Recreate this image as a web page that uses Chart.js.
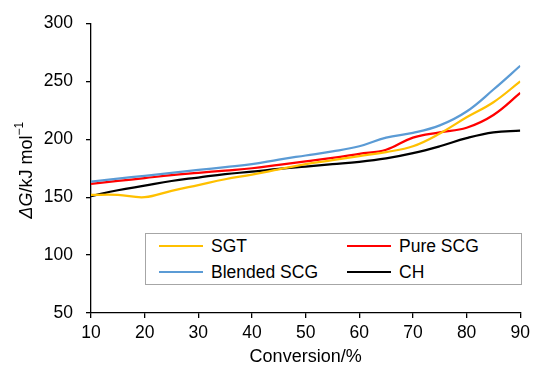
<!DOCTYPE html>
<html>
<head>
<meta charset="utf-8">
<script src="https://cdn.jsdelivr.net/npm/chart.js@4/dist/chart.umd.min.js"></script>
<style>
  body { margin: 0; background: #fff; }
  #wrap { position: relative; width: 535px; height: 373px; }
  #legend-container {
    position: absolute; left: 145px; top: 233px; width: 375px; height: 50px;
    border: 1px solid #a6a6a6; background: #fff;
    font-family: 'Liberation Sans', Arial, sans-serif; font-size: 17.5px; color: #000;
  }
  #legend-container .item { position: absolute; display: flex; align-items: center; height: 24px; }
  #legend-container .swatch { width: 44px; height: 2.25px; margin-right: 8px; }
</style>
</head>
<body>
<div id="wrap">
  <canvas id="myChart" width="535" height="373"></canvas>
  <div id="legend-container"></div>
</div>
<script>
/* conversion values, % */
const CONVERSION = [10, 15, 20, 25, 30, 35, 40, 45, 50, 55, 60, 65, 70, 75, 80, 85, 90];

// delta G, kJ/mol
const SGT =         [152, 152, 150, 155.5, 160.5, 165.5, 169.5, 174, 178.5, 182, 185.5, 189, 194, 205, 219, 232, 250];
const PURE_SCG =    [161.5, 164, 166.5, 169, 171, 173, 175, 178, 181, 184, 187.5, 191, 201.5, 206, 210, 221, 240];
const BLENDED_SCG = [163.5, 166, 168.5, 171, 173.5, 176, 178.5, 182.5, 186, 189.5, 194, 201.5, 205.5, 212, 224, 243, 263.5];
const CH =          [151, 156, 160, 164, 167, 170, 172, 174.5, 176.5, 178.5, 180.5, 183.5, 188, 194, 201, 206, 207.5];

const X_TICKS = [10, 20, 30, 40, 50, 60, 70, 80, 90];
const Y_TICKS = [50, 100, 150, 200, 250, 300];

const FONT = "'Liberation Sans', Arial, sans-serif";

function toPoints(values) {
    return values.map((v, i) => ({ x: CONVERSION[i], y: v }));
}

const data = {
    datasets: [
        { label: 'SGT', data: toPoints(SGT), borderColor: '#FFC000' },
        { label: 'Blended SCG', data: toPoints(BLENDED_SCG), borderColor: '#5B9BD5' },
        { label: 'Pure SCG', data: toPoints(PURE_SCG), borderColor: '#FF0000' },
        { label: 'CH', data: toPoints(CH), borderColor: '#000000' }
    ]
}

// y axis title drawn by hand so that "ΔG" can be italic
const yTitle = {
    id: 'yTitle',
    afterDraw(chart) {
        const area = chart.chartArea;
        const c = chart.ctx;
        const parts = [
            { t: 'ΔG', font: 'italic 18px ' + FONT, dy: 0 },
            { t: '/kJ mol', font: '18px ' + FONT, dy: 0 },
            { t: '−1', font: '12px ' + FONT, dy: -7 }
        ];
        c.save();
        c.translate(27, (area.top + area.bottom) / 2 + 2);
        c.rotate(-Math.PI / 2);
        c.fillStyle = '#000';
        c.textBaseline = 'middle';
        let total = 0;
        parts.forEach(p => { c.font = p.font; p.w = c.measureText(p.t).width; total += p.w; });
        let x = -total / 2;
        parts.forEach(p => {
            c.font = p.font;
            c.fillText(p.t, x, p.dy);
            x += p.w;
        });
        c.restore();
    }
}

const axisCommon = {
    type: 'linear',
    border: { color: '#000', width: 1.3 },
    grid: { drawOnChartArea: false, color: '#000', tickLength: 5, lineWidth: 1.3 },
    ticks: { color: '#000', font: { family: FONT, size: 17.5 } }
}

const options = {
    animation: false,
    responsive: false,
    layout: { padding: { top: 23, right: 10, left: 0, bottom: 0 } },
    elements: {
        point: { radius: 0 },
        line: { borderWidth: 2.25, tension: 0.4, fill: false }
    },
    scales: {
        x: {
            ...axisCommon,
            min: 10,
            max: 90,
            afterBuildTicks: (s) => { s.ticks = X_TICKS.map(v => ({ value: v })); },
            ticks: { ...axisCommon.ticks, padding: 5, maxRotation: 0 },
            title: {
                display: true,
                text: 'Conversion/%',
                color: '#000',
                font: { family: FONT, size: 18 },
                padding: { top: 0, bottom: 5 }
            },
            afterFit: (s) => { s.height = 60; }
        },
        y: {
            ...axisCommon,
            min: 50,
            max: 300,
            afterBuildTicks: (s) => { s.ticks = Y_TICKS.map(v => ({ value: v })); },
            ticks: { ...axisCommon.ticks, padding: 13 },
            afterFit: (s) => { s.width = 91; }
        }
    },
    plugins: {
        legend: { display: false },
        tooltip: { enabled: false }
    }
}

const ctx = document.getElementById('myChart');
const myChart = new Chart(ctx, { type: 'line', data, options, plugins: [yTitle] });

// html legend, two columns inside the plot
function buildLegend() {
    const legend = document.getElementById('legend-container');
    const order = ['SGT', 'Pure SCG', 'Blended SCG', 'CH'];
    order.forEach((name, i) => {
        const ds = myChart.data.datasets.find(d => d.label === name);
        const item = document.createElement('div');
        item.className = 'item';
        item.style.left = (i % 2 === 0 ? 13 : 201) + 'px';
        item.style.top = (i < 2 ? 0 : 26) + 'px';
        const sw = document.createElement('span');
        sw.className = 'swatch';
        sw.style.background = ds.borderColor;
        item.appendChild(sw);
        item.appendChild(document.createTextNode(ds.label));
        legend.appendChild(item);
    });
}
buildLegend();
</script>
</body>
</html>
